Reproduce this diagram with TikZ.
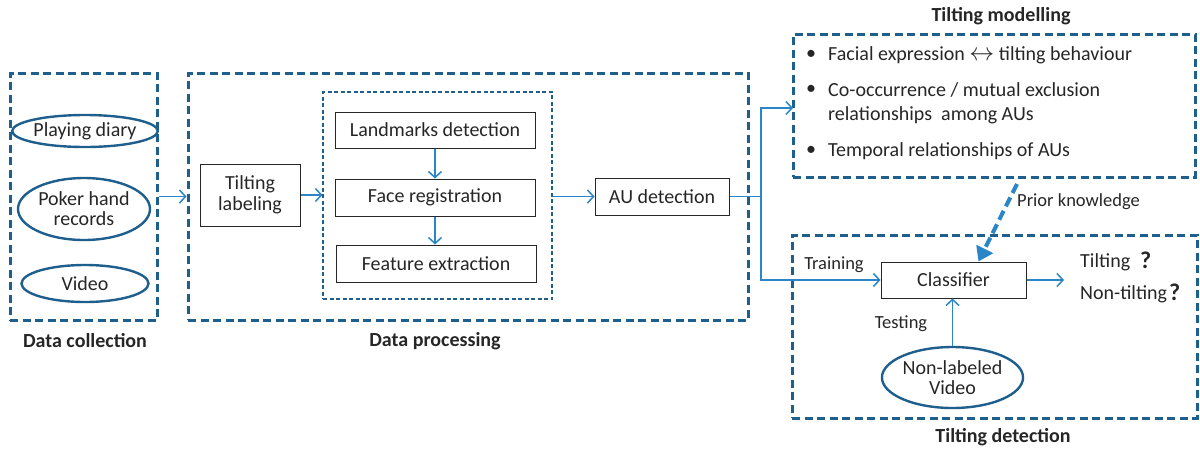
\documentclass[tikz,border=0pt]{standalone}
\usepackage{fontspec}
\setmainfont{Carlito}
\usetikzlibrary{shapes.geometric,arrows.meta}
\definecolor{dkblue}{HTML}{1F5F8E}
\definecolor{arblue}{HTML}{2A86C6}
\definecolor{txt}{HTML}{262626}
\tikzset{
  grp/.style={draw=dkblue, line width=3pt, dash pattern=on 8pt off 4.5pt, rectangle, inner sep=0pt},
  inbox/.style={draw=dkblue, line width=1.1pt, dash pattern=on 4pt off 2.5pt, rectangle, inner sep=0pt},
  procbox/.style={draw=txt, line width=1pt, rectangle, inner sep=0pt, text=txt, font=\fontsize{20}{23}\selectfont, align=center},
  oval/.style={draw=dkblue, line width=2.4pt, ellipse, inner sep=0pt, text=txt, font=\fontsize{20}{23}\selectfont, align=center},
  lbl/.style={text=txt, font=\fontsize{20}{23}\selectfont\bfseries, inner sep=0pt},
  plain/.style={text=txt, font=\fontsize{20}{23}\selectfont, inner sep=0pt},
  small/.style={text=txt, font=\fontsize{18.5}{21}\selectfont, inner sep=0pt},
  qm/.style={text=txt, font=\fontsize{24}{26}\selectfont\bfseries, inner sep=0pt},
  arr/.style={draw=arblue, line width=1.5pt, -{Straight Barb[length=6pt,width=13pt,line width=1.5pt]}},
  ln/.style={draw=arblue, line width=1.5pt},
  prior/.style={draw=arblue, line width=4pt, dash pattern=on 10pt off 5pt, -{Triangle[length=14pt,width=18pt]}}
}
\begin{document}
\begin{tikzpicture}[x=1pt,y=-1pt]
\useasboundingbox (0,0) rectangle (1200,448);
% group boxes
\node[grp, minimum width=147pt, minimum height=247pt] (dc) at (83.5,196.5) {};
\node[grp, minimum width=560pt, minimum height=247pt] (dp) at (468,196.5) {};
\node[inbox, minimum width=229pt, minimum height=207pt] (inner) at (437.5,195.5) {};
\node[grp, minimum width=402pt, minimum height=143pt] (tm) at (994,105.5) {};
\node[grp, minimum width=405pt, minimum height=183pt] (td) at (994.5,326.5) {};
% labels
\node[lbl] (ldc) at (85,341) {Data collection};
\node[lbl] (ldp) at (435,341) {Data processing};
\node[lbl] (ltm) at (1001,16) {Tilting modelling};
\node[lbl] (ltd) at (1003,437) {Tilting detection};
% data collection
\node[oval, minimum width=127pt, minimum height=32pt] (diary) at (85,131) {Playing diary};
\node[oval, minimum width=132pt, minimum height=62pt] (poker) at (84,209) {Poker hand\\[-3pt]records};
\node[oval, minimum width=127pt, minimum height=37pt] (video) at (85,283.5) {Video};
% data processing
\node[procbox, minimum width=100pt, minimum height=62pt] (tl) at (250,195) {Tilting\\[-2pt]labeling};
\node[procbox, minimum width=200pt, minimum height=36pt] (land) at (435,130) {Landmarks detection};
\node[procbox, minimum width=200pt, minimum height=37pt] (face) at (435,197.5) {Face registration};
\node[procbox, minimum width=200pt, minimum height=37pt] (feat) at (436,263.5) {Feature extraction};
\node[procbox, minimum width=134pt, minimum height=37pt] (au) at (662,196.5) {AU detection};
% tilting modelling text
\node[plain] (b1) at (811,55) {•};
\node[plain, anchor=west] (t1) at (828,55) {Facial expression {\fontsize{27}{27}\selectfont$\leftrightarrow$} tilting behaviour};
\node[plain] (b2) at (811,90) {•};
\node[plain, anchor=west] (t2) at (828,90) {Co-occurrence / mutual exclusion};
\node[plain, anchor=west] (t2b) at (828,115) {relationships\ \ among AUs};
\node[plain] (b3) at (811,151) {•};
\node[plain, anchor=west] (t3) at (828,151) {Temporal relationships of AUs};
% tilting detection
\node[procbox, minimum width=145pt, minimum height=36pt] (clf) at (953.5,280) {Classifier};
\node[oval, minimum width=129pt, minimum height=61pt] (nlv) at (952.5,377.5) {Non-labeled\\[-3pt]Video};
\node[small] (ltrain) at (834,265) {Training};
\node[small] (ltest) at (901,324) {Testing};
\node[plain, anchor=west] (otilt) at (1080,262) {Tilting};
\node[qm, anchor=west] (q1) at (1140,260) {?};
\node[plain, anchor=west] (ontilt) at (1080,294) {Non-tilting};
\node[qm, anchor=west] (q2) at (1169,292) {?};
\node[small, anchor=west] (lprior) at (1017,202) {Prior knowledge};
% coordinates
\coordinate (split) at (761,196.5);
\coordinate (tmin) at (793,108);
\coordinate (outend) at (1064,280);
\coordinate (pk) at (1017,184);
% connectors
\draw[arr] (dc.east) -- (dp.west);
\draw[arr] (tl.east) -- (tl.east -| inner.west);
\draw[arr] (land.south) -- (face.north);
\draw[arr] (face.south) -- (face.south |- feat.north);
\draw[arr] (au.west -| inner.east) -- (au.west);
\draw[ln] (au.east) -- (split);
\draw[arr] (split) |- (tmin);
\draw[arr] (split) |- (clf.west);
\draw[arr] (nlv.north) -- (nlv.north |- clf.south);
\draw[arr] (clf.east) -- (outend);
\draw[prior] (pk) -- ([xshift=25pt]clf.north);
\end{tikzpicture}
\end{document}
